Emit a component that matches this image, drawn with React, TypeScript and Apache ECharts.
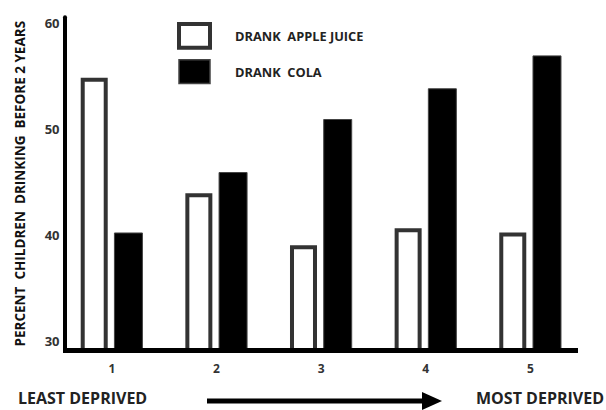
import React, { useEffect, useRef } from "react";
import * as echarts from "echarts";

const categories = ["1", "2", "3", "4", "5"];
const appleJuice = [54.8, 43.9, 39.0, 40.6, 40.2];
const cola = [40.2, 45.9, 50.9, 53.8, 56.9];
const yTickValues = [30, 40, 50, 60];
const seriesNames = ["DRANK  APPLE JUICE", "DRANK  COLA"];
const yAxisTitle = "PERCENT  CHILDREN  DRINKING  BEFORE 2 YEARS";
const leftCaption = "LEAST DEPRIVED";
const rightCaption = "MOST DEPRIVED";

const FONT = "'Open Sans', 'Liberation Sans', sans-serif";

export default function App() {
  const ref = useRef<HTMLDivElement>(null);
  useEffect(() => {
    if (!ref.current) return;
    const chart = echarts.init(ref.current, null, { renderer: "svg" });
    chart.setOption({
      animation: false,
      backgroundColor: "#ffffff",
      grid: { left: 59.5, right: 23.3, top: 17.2, bottom: 59.8, containLabel: false },
      legend: {
        orient: "vertical",
        left: 177,
        top: 22,
        padding: 0,
        itemWidth: 31,
        itemHeight: 23.7,
        itemGap: 9.3,
        icon: "rect",
        selectedMode: false,
        textStyle: {
          fontFamily: FONT,
          fontWeight: "bold",
          fontSize: 12.8,
          color: "#222",
          padding: [0, 0, 0, 20],
        },
        data: [
          { name: seriesNames[0], itemStyle: { color: "#ffffff", borderColor: "#333", borderWidth: 4 } },
          { name: seriesNames[1], itemStyle: { color: "#000000", borderColor: "#444", borderWidth: 1.5 } },
        ],
      },
      xAxis: {
        type: "category",
        data: categories,
        axisLine: { show: false },
        axisTick: { show: false },
        axisLabel: {
          margin: 12,
          fontFamily: FONT,
          fontWeight: "bold",
          fontSize: 12,
          color: "#333",
        },
      },
      yAxis: {
        type: "value",
        min: 29.1,
        max: 60.5,
        offset: -5,
        name: yAxisTitle,
        nameLocation: "middle",
        nameRotate: 90,
        nameGap: 38,
        nameTextStyle: {
          fontFamily: FONT,
          fontWeight: "bold",
          fontSize: 13.5,
          color: "#111",
        },
        axisLine: { show: true, lineStyle: { color: "#000", width: 4 } },
        axisTick: { show: false },
        splitLine: { show: false },
        axisLabel: {
          customValues: yTickValues,
          margin: 5,
          fontFamily: FONT,
          fontWeight: "bold",
          fontSize: 13,
          color: "#333",
        },
      },
      series: [
        {
          name: seriesNames[0],
          type: "bar",
          data: appleJuice,
          barWidth: 27,
          barGap: "23%",
          itemStyle: { color: "#ffffff", borderColor: "#333", borderWidth: 4 },
        },
        {
          name: seriesNames[1],
          type: "bar",
          data: cola,
          barWidth: 29,
          itemStyle: { color: "#000000", borderColor: "#444", borderWidth: 1 },
        },
      ],
      graphic: [
        {
          type: "line",
          z: 100,
          shape: { x1: 63, y1: 350.5, x2: 578, y2: 350.5 },
          style: { stroke: "#000", lineWidth: 5 },
        },
        {
          type: "line",
          z: 100,
          shape: { x1: 207, y1: 401, x2: 425, y2: 401 },
          style: { stroke: "#000", lineWidth: 5 },
        },
        {
          type: "polygon",
          z: 100,
          shape: { points: [[422, 392], [442, 401], [422, 410]] },
          style: { fill: "#000" },
        },
        {
          type: "text",
          z: 100,
          x: 18,
          y: 398,
          style: {
            text: leftCaption,
            fontFamily: FONT,
            fontWeight: "bold",
            fontSize: 16,
            fill: "#222",
            verticalAlign: "middle",
            align: "left",
          },
        },
        {
          type: "text",
          z: 100,
          x: 604,
          y: 398,
          style: {
            text: rightCaption,
            fontFamily: FONT,
            fontWeight: "bold",
            fontSize: 16,
            fill: "#222",
            verticalAlign: "middle",
            align: "right",
          },
        },
      ],
    });
    return () => chart.dispose();
  }, []);
  return (
    <div
      ref={ref}
      style={{ position: "fixed", left: 0, top: 0, width: 606, height: 410 }}
    />
  );
}
